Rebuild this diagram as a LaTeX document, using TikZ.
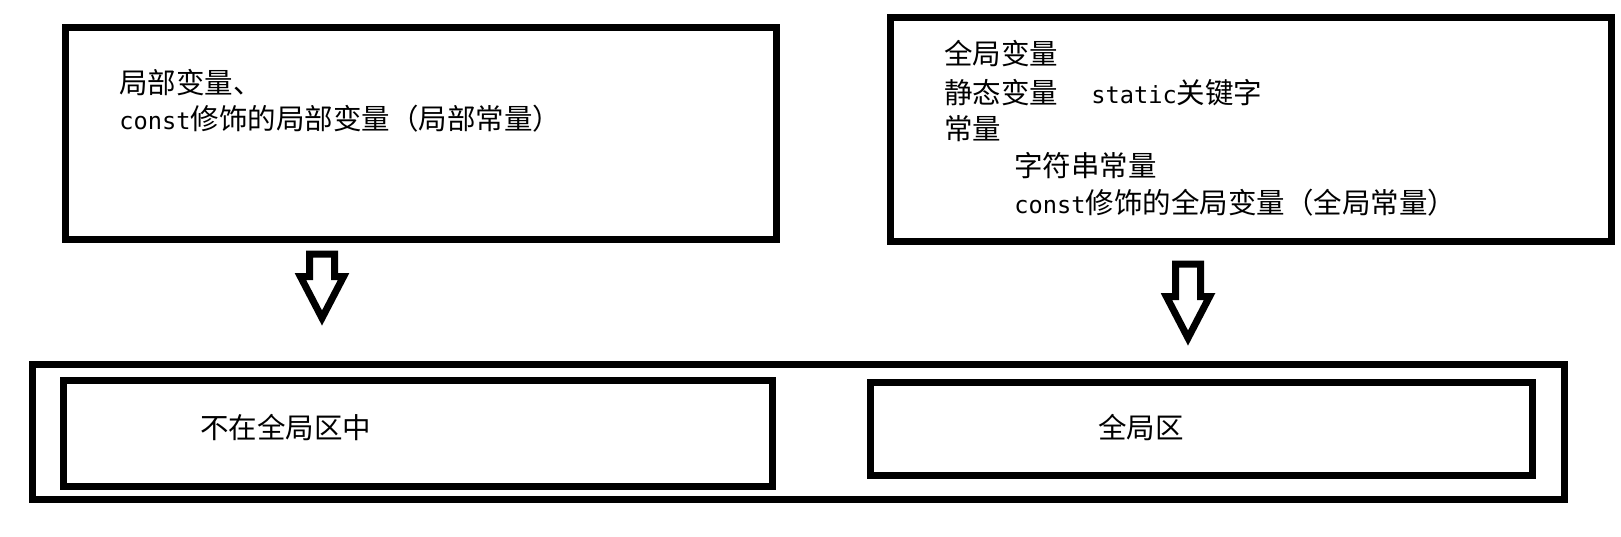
\documentclass[tikz,border=0pt]{standalone}
\usepackage{fontspec}
\usepackage{tikz}
\usetikzlibrary{shapes.arrows}
\newfontfamily\cjk{Noto Sans CJK SC}
\newfontfamily\codefont[Scale=0.83]{DejaVu Sans Mono}
\begin{document}
\begin{tikzpicture}[x=0.5pt,y=-0.5pt]
\useasboundingbox (0,0) rectangle (1621,536);
\tikzstyle{membox}=[draw,line width=3.5pt,inner sep=0pt];
\tikzstyle{txt}=[anchor=base west,inner sep=0pt,font=\cjk\fontsize{14.25}{18}\selectfont];
\tikzstyle{downarrow}=[draw,fill=white,single arrow,shape border rotate=270,line width=3.5pt,inner sep=4.5pt,single arrow head extend=4.5pt,single arrow tip angle=55,anchor=tail];
% top boxes
\node[membox,minimum width=355.5pt,minimum height=106pt] (local)at(421,133.5) {};
\node[membox,minimum width=360.5pt,minimum height=112pt] (global)at(1251,129.5) {};
\node[txt] (l1)at(119,93) {局部变量、};
\node[txt] (l2)at(119,129) {{\codefont const}修饰的局部变量（局部常量）};
\node[txt] (g1)at(944,64) {全局变量};
\node[txt] (g2)at(944,103) {静态变量\hspace{16.5pt}{\codefont static}关键字};
\node[txt] (g3)at(944,139) {常量};
\node[txt] (g4)at(1014,176) {字符串常量};
\node[txt] (g5)at(1014,213) {{\codefont const}修饰的全局变量（全局常量）};
% arrows
\node[downarrow,minimum height=32pt,minimum width=19pt] (arrL)at(322,250.5) {};
\node[downarrow,minimum height=37pt,minimum width=17pt] (arrR)at(1188,260.5) {};
% bottom boxes
\node[membox,minimum width=766pt,minimum height=67.5pt] (mem)at(798.5,432) {};
\node[membox,minimum width=354.5pt,minimum height=53pt] (notglobal)at(418,433.5) {};
\node[membox,minimum width=331pt,minimum height=46.5pt] (globalarea)at(1201.5,429) {};
\node[txt] (b1)at(200,438) {不在全局区中};
\node[txt] (b2)at(1098,438) {全局区};
\end{tikzpicture}
\end{document}
